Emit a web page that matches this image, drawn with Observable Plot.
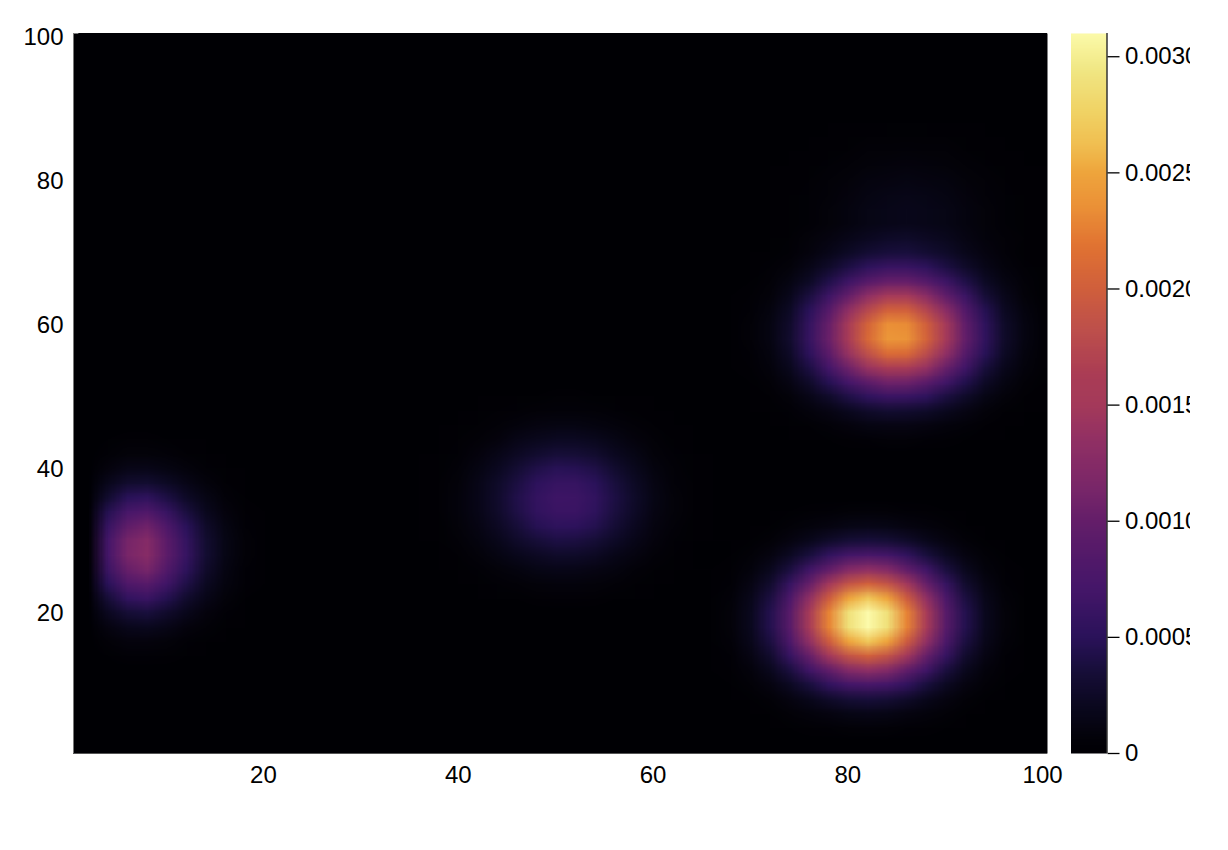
<!DOCTYPE html>
<html>
<head>
<meta charset="utf-8">
<script src="https://cdn.jsdelivr.net/npm/d3@7"></script>
<script src="https://cdn.jsdelivr.net/npm/@observablehq/plot@0.6"></script>
<style>
html,body{margin:0;padding:0;background:#fff;width:1228px;height:850px;overflow:hidden}
#main{position:absolute;left:0;top:0;width:1070px;height:800px}
#bar{position:absolute;left:1060px;top:0;width:130px;height:800px;overflow:hidden}
svg text{fill:#000}
</style>
</head>
<body>
<div id="main"></div>
<div id="bar"></div>
<script>
// Values, in units of 1e-5, on a 2-unit grid.
const colorMax = 0.0031;
const unit = 1e-5;
const xTicks = [20, 40, 60, 80, 100];
const yTicks = [20, 40, 60, 80, 100];
const barTicks = [0, 0.0005, 0.001, 0.0015, 0.002, 0.0025, 0.003];

// Colour ramp (fraction of colorMax, colour).
const rampStops = [0, 0.018, 0.064, 0.111, 0.161, 0.226, 0.272, 0.323, 0.365, 0.435, 0.485, 0.525, 0.59, 0.646, 0.705, 0.76, 0.807, 0.844, 0.89, 0.947, 1];
const rampColors = ["#000004", "#030208", "#0a081e", "#160e37", "#2a125a", "#441669", "#521969", "#641e69", "#782669", "#913064", "#a53a5a", "#aa3c55", "#be504b", "#d05f3c", "#e17332", "#eb9137", "#eea53c", "#f0be50", "#f0d264", "#f0e682", "#fcfaaa"];

const lowerX = 66, lowerY = 4;
const lower = [
 [0,0,0,1,2,3,4,5,6,5,4,3,2,1,0,0,0],
 [0,0,1,2,5,8,11,14,15,14,11,8,5,2,1,0,0],
 [0,1,2,5,11,18,27,34,36,34,27,18,11,5,2,1,0],
 [0,2,5,11,22,37,55,69,74,69,55,37,22,11,5,2,0],
 [1,3,8,19,38,66,97,122,132,122,97,66,38,19,8,3,1],
 [1,4,13,29,59,101,148,188,202,188,148,101,59,29,13,4,1],
 [2,6,17,39,78,134,197,249,269,249,197,134,78,39,17,6,2],
 [2,7,20,45,90,155,228,288,310,288,228,155,90,45,20,7,2],
 [2,7,20,45,90,155,228,288,310,288,228,155,90,45,20,7,2],
 [2,6,17,39,78,134,197,249,269,249,197,134,78,39,17,6,2],
 [1,4,13,29,59,101,148,188,202,188,148,101,59,29,13,4,1],
 [1,3,8,19,38,66,97,122,132,122,97,66,38,19,8,3,1],
 [0,2,5,11,22,37,55,69,74,69,55,37,22,11,5,2,0],
 [0,1,2,5,11,18,27,34,36,34,27,18,11,5,2,1,0],
 [0,0,1,2,5,8,11,14,15,14,11,8,5,2,1,0,0],
 [0,0,0,1,2,3,4,5,6,5,4,3,2,1,0,0,0]
];

const upperX = 68, upperY = 44;
const upper = [
 [0,0,0,1,1,2,3,4,5,5,4,3,2,1,1,0,0],
 [0,0,1,2,3,6,9,12,13,13,11,8,6,3,1,1,0],
 [0,1,2,4,8,13,20,27,31,30,26,20,13,7,3,2,1],
 [0,1,3,7,15,27,41,54,62,61,53,39,26,14,7,3,1],
 [0,2,5,13,27,47,70,93,107,106,91,68,44,25,12,5,2],
 [1,3,8,19,40,70,106,141,162,160,138,103,67,37,18,8,3],
 [1,4,10,25,52,92,139,184,212,210,180,135,87,49,24,10,3],
 [1,5,12,29,59,104,157,209,240,238,204,152,99,55,27,12,4],
 [1,5,12,28,58,102,155,205,235,233,200,150,97,54,26,12,4],
 [1,4,10,24,50,87,132,175,200,199,171,128,83,46,22,10,3],
 [1,3,7,18,37,64,97,129,148,147,126,94,61,34,16,7,2],
 [0,2,5,11,23,41,62,83,95,94,81,60,39,22,11,5,2],
 [0,1,3,6,13,23,35,46,53,52,45,33,22,12,6,3,1],
 [0,1,1,3,6,11,17,22,25,25,21,16,10,6,3,1,0],
 [0,0,1,1,3,5,7,9,11,11,9,7,4,2,1,1,0]
];

const faintX = 72, faintY = 62;
const faint = [
 [0,0,0,1,1,1,2,2,2,1,1,1,0,0,0],
 [0,0,1,1,2,3,3,3,3,3,2,1,1,0,0],
 [0,1,1,2,3,5,5,6,5,5,3,2,1,1,0],
 [1,1,2,4,5,7,8,9,8,7,5,4,2,1,1],
 [1,1,3,5,7,10,11,12,11,10,7,5,3,1,1],
 [1,2,4,6,9,12,14,15,14,12,9,6,4,2,1],
 [1,2,4,7,10,14,16,17,16,14,10,7,4,2,1],
 [1,2,4,7,10,14,16,17,16,14,10,7,4,2,1],
 [1,2,4,6,9,12,14,15,14,12,9,6,4,2,1],
 [1,1,3,5,7,10,11,12,11,10,7,5,3,1,1],
 [1,1,2,4,5,7,8,9,8,7,5,4,2,1,1],
 [0,1,1,2,3,5,5,6,5,5,3,2,1,1,0],
 [0,0,1,1,2,3,3,3,3,3,2,1,1,0,0],
 [0,0,0,1,1,1,2,2,2,1,1,1,0,0,0]
];

const middleX = 36, middleY = 22;
const middle = [
 [0,0,0,1,2,2,3,4,4,3,2,2,1,0,0,0],
 [0,0,1,2,4,5,7,8,8,7,5,3,2,1,0,0],
 [0,1,2,4,7,10,14,16,15,13,10,6,3,2,1,0],
 [0,1,3,7,12,18,23,27,26,23,16,11,6,3,1,0],
 [1,2,5,10,17,27,35,40,39,34,25,16,9,4,2,1],
 [1,2,7,13,23,35,47,53,52,45,33,21,11,6,2,1],
 [1,3,8,15,27,41,55,62,62,53,38,25,13,7,3,1],
 [1,3,8,16,28,43,57,65,64,55,40,26,14,7,3,1],
 [1,3,7,15,26,39,52,59,59,50,37,24,13,6,3,1],
 [1,2,6,12,21,32,42,48,47,41,30,19,10,5,2,1],
 [1,2,4,9,15,23,30,35,34,29,21,14,7,4,2,1],
 [0,1,3,5,9,15,19,22,22,19,14,9,5,2,1,0],
 [0,1,2,3,5,8,11,12,12,10,8,5,3,1,1,0],
 [0,0,1,2,3,4,5,6,6,5,4,2,1,1,0,0],
 [0,0,0,1,1,2,2,3,3,2,2,1,1,0,0,0]
];

const leftX = 4, leftY = 14;
const left = [
 [2,4,4,3,2,1,0,0,0],
 [5,9,9,7,4,2,1,0,0],
 [11,18,20,15,9,5,2,1,0],
 [21,34,37,28,18,9,4,1,0],
 [35,56,62,46,29,16,7,2,0],
 [50,81,89,67,42,22,10,4,1],
 [64,102,113,84,53,28,12,4,1],
 [71,114,126,94,60,32,14,5,1],
 [70,112,124,92,58,31,14,5,1],
 [60,96,107,80,50,27,12,4,1],
 [46,73,81,60,38,20,9,3,1],
 [30,49,54,40,25,14,6,2,0],
 [18,29,31,24,15,8,3,1,0],
 [9,15,16,12,8,4,2,1,0],
 [4,7,7,6,3,2,1,0,0],
 [2,3,3,2,1,1,0,0,0]
];

// Assemble the 50 x 50 table the raster mark reads.
const size = 50;
const grid = new Float64Array(size * size);
function addPatch(rows, x0, y0) {
  rows.forEach((row, j) => row.forEach((v, i) => {
    const c = (x0 - 2) / 2 + i, r = (y0 - 2) / 2 + j;
    if (c < size && r < size) grid[r * size + c] += v * unit;
  }));
}
addPatch(lower, lowerX, lowerY);
addPatch(upper, upperX, upperY);
addPatch(faint, faintX, faintY);
addPatch(middle, middleX, middleY);
addPatch(left, leftX, leftY);

const font = {fontFamily: "'Liberation Sans', Arial, sans-serif", fontSize: "24px", background: "transparent", color: "#000"};
const color = {type: "linear", domain: rampStops.map(s => s * colorMax), range: rampColors, interpolate: "rgb"};

document.getElementById("main").append(Plot.plot({
  width: 1070, height: 800,
  marginLeft: 73, marginRight: 23, marginTop: 33, marginBottom: 47,
  style: font,
  color,
  x: {domain: [0.5, 100.5]},
  y: {domain: [0.5, 100.5]},
  marks: [
    Plot.frame({fill: "#000004", stroke: null}),
    Plot.raster(Array.from(grid), {width: size, height: size, x1: 1, x2: 101, y1: 1, y2: 101, clip: true}),
    Plot.ruleX([0.5], {stroke: "#777", strokeWidth: 1}),
    Plot.ruleY([0.5], {stroke: "#555", strokeWidth: 1}),
    Plot.axisX({ticks: xTicks, tickSize: 0, tickPadding: 12, label: null, fill: "#000"}),
    Plot.axisY({ticks: yTicks, tickSize: 0, tickPadding: 10, label: null, fill: "#000"})
  ]
}));

document.getElementById("bar").append(Plot.plot({
  width: 130, height: 800,
  marginLeft: 10.5, marginRight: 83.5, marginTop: 33, marginBottom: 47,
  style: {...font, overflow: "hidden"},
  color,
  x: {domain: [0, 1], axis: null},
  y: {domain: [0, colorMax]},
  marks: [
    Plot.raster({x1: 0, x2: 1, y1: 0, y2: colorMax, width: 1, height: 128, fill: (x, y) => y, imageRendering: "auto"}),
    Plot.ruleX([1], {stroke: "#333", strokeWidth: 1.5}),
    Plot.axisY({anchor: "right", ticks: barTicks, tickSize: 12, tickPadding: 6, label: null, stroke: "#000", strokeWidth: 1.3, fill: "#000",
      tickFormat: d => d === 0 ? "0" : d.toFixed(4)})
  ]
}));
</script>
</body>
</html>
